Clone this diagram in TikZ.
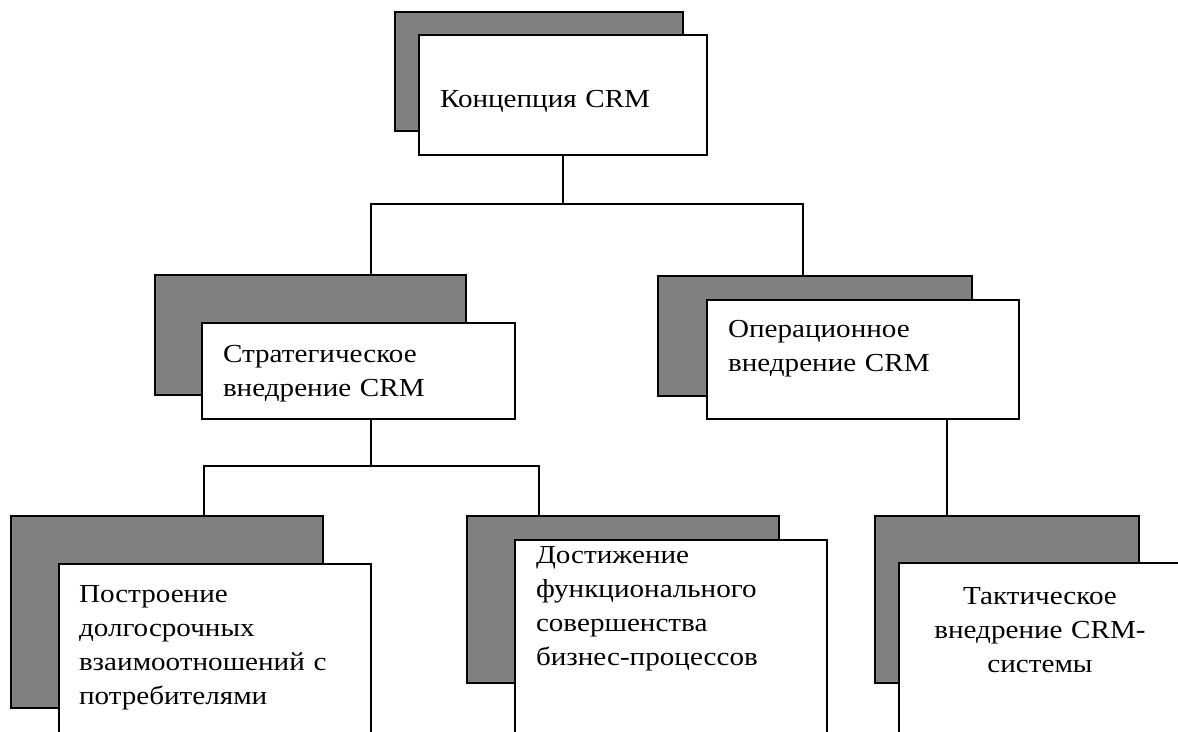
\documentclass[tikz,border=0pt]{standalone}
\usepackage{fontspec}
\setmainfont{Liberation Serif}[FakeStretch=1.12]
\definecolor{boxgray}{HTML}{808080}
\begin{document}
\begin{tikzpicture}[x=1pt,y=-1pt,
  back/.style={draw=black, fill=boxgray, line width=2pt, inner sep=0pt, outer sep=0pt, anchor=north west},
  front/.style={draw=black, fill=white, line width=2pt, inner sep=0pt, outer sep=0pt, anchor=north west},
  label/.style={inner sep=0pt, outer sep=0pt, font=\fontsize{26}{34}\selectfont, text width=#1},
  label/.default=300pt,
  link/.style={draw=black, line width=1.8pt}]
\useasboundingbox (0,0) rectangle (1178,731);
\clip (0,0) rectangle (1178,731);
\fill[white] (0,0) rectangle (1178,731);
% top
\node[back, minimum width=288pt, minimum height=119pt] (g1) at (395,12) {};
\node[front, minimum width=288pt, minimum height=120pt] (w1) at (419,35) {};
\node[label, anchor=base west, align=left] (t1) at (440,107) {Концепция CRM};
% strategic
\node[back, minimum width=311pt, minimum height=120pt] (g2) at (155,275) {};
\node[front, minimum width=313pt, minimum height=96pt] (w2) at (202,323) {};
\node[label, anchor=base west, align=left] (t2) at (223,362) {Стратегическое\\внедрение CRM};
% operational
\node[back, minimum width=314pt, minimum height=120pt] (g3) at (658,276) {};
\node[front, minimum width=312pt, minimum height=119pt] (w3) at (707,300) {};
\node[label, anchor=base west, align=left] (t3) at (728,337) {Операционное\\внедрение CRM};
% bottom left
\node[back, minimum width=312pt, minimum height=192pt] (g4) at (11,516) {};
\node[front, minimum width=312pt, minimum height=200pt] (w4) at (59,564) {};
\node[label, anchor=base west, align=left] (t4) at (79,602) {Построение\\долгосрочных\\взаимоотношений с\\потребителями};
% bottom middle
\node[back, minimum width=312pt, minimum height=167pt] (g5) at (467,516) {};
\node[front, minimum width=312pt, minimum height=220pt] (w5) at (515,540) {};
\node[label, anchor=base west, align=left] (t5) at (536,563) {Достижение\\функционального\\совершенства\\бизнес-процессов};
% bottom right
\node[back, minimum width=264pt, minimum height=167pt] (g6) at (875,516) {};
\node[front, minimum width=300pt, minimum height=200pt] (w6) at (899,563) {};
\node[label=260pt, anchor=base, align=center] (t6) at (1040,604) {Тактическое\\внедрение CRM-\\системы};
% junctions
\coordinate (j1) at (563,204);
\coordinate (jl) at (371,204);
\coordinate (jr) at (803,204);
\coordinate (j2) at (371,466);
\coordinate (kl) at (204,466);
\coordinate (kr) at (539,466);
\coordinate (j3) at (947,419);
% connectors
\draw[link] (w1.south) -- (j1);
\draw[link] (jl |- g2.north) -- (jl) -- (jr) -- (jr |- g3.north);
\draw[link] (w2.south -| j2) -- (j2);
\draw[link] (kl |- g4.north) -- (kl) -- (kr) -- (kr |- g5.north);
\draw[link] (j3) -- (j3 |- g6.north);
\end{tikzpicture}
\end{document}
